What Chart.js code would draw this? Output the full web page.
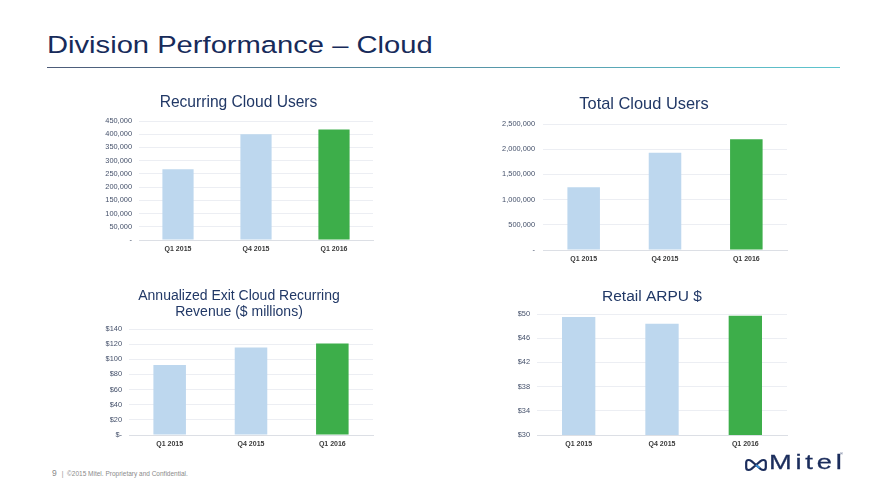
<!DOCTYPE html>
<html>
<head>
<meta charset="utf-8">
<script src="https://cdn.jsdelivr.net/npm/chart.js@4.4.1/dist/chart.umd.min.js"></script>
<style>
  html, body { margin: 0; padding: 0; background: #ffffff; }
  body { width: 880px; height: 495px; position: relative; overflow: hidden; font-family: "Liberation Sans", Arial, sans-serif; }
  #title { position: absolute; left: 47px; top: 31px; font-size: 24.5px; line-height: 28px; color: #172b5a; white-space: nowrap; transform: scaleX(1.19); transform-origin: 0 0; }
  #rule { position: absolute; left: 47px; top: 67px; width: 793px; height: 1px; background: linear-gradient(to right, #4d5b78, #5fc6cf); }
  .box { position: absolute; }
  #footer { position: absolute; left: 52px; top: 468px; font-size: 6.5px; line-height: 10px; color: #8a8a8a; white-space: nowrap; }
  #footer .pg { font-size: 8.5px; margin-right: 5px; }
  #logo { position: absolute; left: 744px; top: 450px; width: 110px; height: 30px; }
  #logo .word { position: absolute; left: 25px; top: -0.5px; font-size: 21px; line-height: 24px; color: #1b2d5c; letter-spacing: 2.9px; transform: scaleX(1.3); transform-origin: 0 0; -webkit-text-stroke: 0.3px #1b2d5c; }
  #logo .tm { position: absolute; left: 96px; top: 1px; font-size: 4px; color: #1b2d5c; }
</style>
</head>
<body>
<div id="title">Division Performance – Cloud</div>
<div id="rule"></div>

<div class="box" id="b1"><canvas id="c1"></canvas></div>
<div class="box" id="b2"><canvas id="c2"></canvas></div>
<div class="box" id="b3"><canvas id="c3"></canvas></div>
<div class="box" id="b4"><canvas id="c4"></canvas></div>

<div id="footer"><span class="pg">9</span>|&nbsp; ©2015 Mitel. Proprietary and Confidential.</div>
<div id="logo">
  <svg width="22" height="14" viewBox="0 0 22 14" style="position:absolute;left:1px;top:8px">
    <path d="M3.5 2 Q1.2 2 1.2 4.5 L1.2 9.5 Q1.2 12 3.5 12 Q5 12 6.5 10.8 L11 7 L6.5 3.2 Q5 2 3.5 2 Z" fill="none" stroke="#1b2d5c" stroke-width="2.2" stroke-linejoin="round"/>
    <path d="M18.5 2 Q20.8 2 20.8 4.5 L20.8 9.5 Q20.8 12 18.5 12 Q17 12 15.5 10.8 L11 7 L15.5 3.2 Q17 2 18.5 2 Z" fill="none" stroke="#1b2d5c" stroke-width="2.2" stroke-linejoin="round"/>
    <path d="M11 7 L14.5 10" stroke="#3a8fd6" stroke-width="2"/>
  </svg>
  <span class="word">Mitel</span><span class="tm">®</span>
</div>

<script>
// ---------- data ----------
const categories = ['Q1 2015', 'Q4 2015', 'Q1 2016'];

const recurringUsers = [268000, 400000, 418000];
const recurringTicks = [0, 50000, 100000, 150000, 200000, 250000, 300000, 350000, 400000, 450000];
const recurringTickLabels = ['-', '50,000', '100,000', '150,000', '200,000', '250,000', '300,000', '350,000', '400,000', '450,000'];

const totalUsers = [1245000, 1930000, 2195000];
const totalTicks = [0, 500000, 1000000, 1500000, 2000000, 2500000];
const totalTickLabels = ['-', '500,000', '1,000,000', '1,500,000', '2,000,000', '2,500,000'];

const revenue = [92.5, 115.5, 121];
const revenueTicks = [0, 20, 40, 60, 80, 100, 120, 140];
const revenueTickLabels = ['$-', '$20', '$40', '$60', '$80', '$100', '$120', '$140'];

const arpu = [49.5, 48.4, 49.7];
const arpuTicks = [30, 34, 38, 42, 46, 50];
const arpuTickLabels = ['$30', '$34', '$38', '$42', '$46', '$50'];

// ---------- styling ----------
const BLUE = '#bdd7ee';
const GREEN = '#3dae4a';
const barColors = [BLUE, BLUE, GREEN];
const FONT = '"Liberation Sans", Arial, sans-serif';

function makeChart(id, boxId, geo, titleLines, values, tickVals, tickLabels) {
  const w = geo.w, h = geo.h, x0 = geo.x0, y0 = geo.y0;
  const box = document.getElementById(boxId);
  box.style.left = x0 + 'px';
  box.style.top = y0 + 'px';
  box.style.width = w + 'px';
  box.style.height = h + 'px';
  const cv = document.getElementById(id);
  cv.width = w; cv.height = h;
  cv.style.width = w + 'px'; cv.style.height = h + 'px';

  const tFont = geo.tFont, tLH = geo.tLH;
  const textH = titleLines.length * tFont * tLH;
  const padTop = geo.titleCy - y0 - textH / 2;
  const padBottom = (geo.plot[1] - y0) - padTop - textH;

  new Chart(cv, {
    type: 'bar',
    data: {
      labels: categories,
      datasets: [{ data: values, backgroundColor: barColors, borderWidth: 0, barPercentage: 0.4, categoryPercentage: 1.0 }]
    },
    options: {
      responsive: false,
      animation: false,
      devicePixelRatio: 1,
      layout: { padding: { left: 0, top: 0, bottom: 0, right: x0 + w - geo.plot[2] } },
      plugins: {
        legend: { display: false },
        tooltip: { enabled: false },
        title: {
          display: true,
          text: titleLines.length === 1 ? titleLines[0] : titleLines,
          color: '#213866',
          font: { family: FONT, size: tFont, weight: 'normal', lineHeight: tLH },
          padding: { top: padTop, bottom: padBottom }
        }
      },
      scales: {
        x: {
          grid: { display: false, drawTicks: false },
          border: { display: true, color: '#dcdfe5', width: 1 },
          ticks: { color: '#3a3a3a', font: { family: FONT, size: 7, weight: 'bold' }, padding: 5 },
          afterFit: s => { s.height = y0 + h - geo.plot[3]; }
        },
        y: {
          min: tickVals[0],
          max: tickVals[tickVals.length - 1],
          afterBuildTicks: s => { s.ticks = tickVals.map(v => ({ value: v })); },
          grid: { color: '#eceef3', lineWidth: 1, drawTicks: false },
          border: { display: false },
          ticks: {
            color: '#44506a',
            font: { family: FONT, size: 7.4 },
            padding: geo.tickPad,
            callback: (v, i) => tickLabels[i]
          },
          afterFit: s => { s.width = geo.plot[0] - x0; }
        }
      }
    }
  });
}

// plot = [left, top, right, bottom]; canvas starts at x0 (title centred between x0 and plot right)
function geoFor(x0, plot, y0, bottom, titleCy, tickPad, tFont, tLH) {
  const right = plot[2] + 4;
  return { x0, w: right - x0, y0, h: bottom - y0, plot, titleCy, tickPad, tFont, tLH };
}

makeChart('c1', 'b1', geoFor(104, [139, 121, 373, 240], 86, 260, 103, 7, 15.6, 1.1),
  ['Recurring Cloud Users'], recurringUsers, recurringTicks, recurringTickLabels);
makeChart('c2', 'b2', geoFor(501, [543, 124, 787, 250], 86, 268, 104.3, 8, 16.4, 1.1),
  ['Total Cloud Users'], totalUsers, totalTicks, totalTickLabels);
makeChart('c3', 'b3', geoFor(105, [129, 329, 373, 435], 280, 455, 304, 7, 14, 1.19),
  ['Annualized Exit Cloud Recurring', 'Revenue ($ millions)'], revenue, revenueTicks, revenueTickLabels);
makeChart('c4', 'b4', geoFor(517, [537, 314, 787, 435], 280, 455, 296.7, 7, 15.5, 1.1),
  ['Retail ARPU $'], arpu, arpuTicks, arpuTickLabels);
</script>
</body>
</html>
